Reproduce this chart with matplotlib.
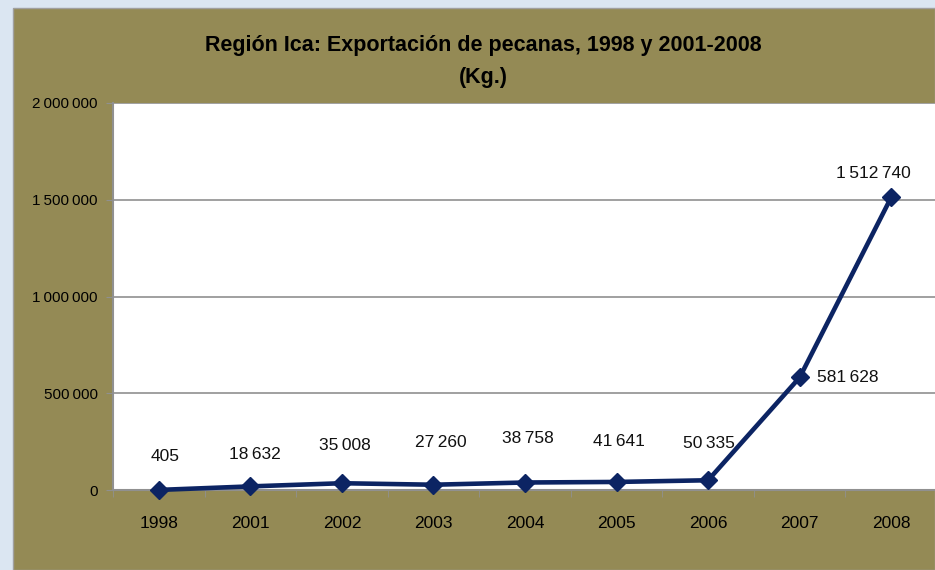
import matplotlib
matplotlib.use("Agg")
import matplotlib.pyplot as plt
from matplotlib.patches import Rectangle
import numpy as np

years = ["1998", "2001", "2002", "2003", "2004", "2005", "2006", "2007", "2008"]
values = [405, 18632, 35008, 27260, 38758, 41641, 50335, 581628, 1512740]
yticks = [0, 500000, 1000000, 1500000, 2000000]
title_lines = ["Región Ica: Exportación de pecanas, 1998 y 2001-2008", "(Kg.)"]

def fmt(v):
    return f"{v:,}".replace(",", "\u2009")

FONT = ["Liberation Sans Narrow", "Liberation Sans", "DejaVu Sans"]
plt.rcParams["font.family"] = FONT

W, H = 935, 570
fig = plt.figure(figsize=(W / 100, H / 100), dpi=100, facecolor="#dbe6f2")

# olive chart area
fig.patches.append(Rectangle((13 / W, 0), 1 - 13 / W, 1 - 8 / H, transform=fig.transFigure,
                             facecolor="#948a55", edgecolor="#a0a0a0", linewidth=1, zorder=-10))

L, R, T, B = 113, 937, 103, 490
ax = fig.add_axes([L / W, 1 - B / H, (R - L) / W, (B - T) / H], zorder=5)
ax.set_facecolor("white")

x = np.arange(len(years))
ax.plot(x, values, color="#0c2463", linewidth=3.3, marker="D", markersize=9.5,
        zorder=5, clip_on=False)

ax.set_xlim(-0.5, len(years) - 0.5)
ax.set_ylim(0, 2000000)
ax.set_yticks(yticks)
ax.set_yticklabels([fmt(v) for v in yticks], fontsize=11)
ax.set_xticks(x)
ax.set_xticklabels(years, fontsize=12.5)
ax.set_xticks(np.arange(-0.5, len(years), 1), minor=True)
ax.tick_params(axis="x", which="major", length=0, pad=19)
ax.tick_params(axis="x", which="minor", length=5, color="#909090", direction="out")
ax.tick_params(axis="y", length=5, color="#909090", direction="out", pad=6)
ax.yaxis.grid(True, color="#909090", linewidth=1.2)
ax.set_axisbelow(True)
for s in ["top", "right"]:
    ax.spines[s].set_visible(False)
for s in ["left", "bottom"]:
    ax.spines[s].set_color("#909090")
    ax.spines[s].set_linewidth(1.5)

# label offsets in pixels (dx, dy)
offs = [(6, 33), (5, 32), (3, 38), (7, 42), (3, 44), (2, 40), (1, 37), (17, 0), (-18, 24)]
for i, (v, (dx, dy)) in enumerate(zip(values, offs)):
    ha = "left" if i == 7 else "center"
    ax.annotate(fmt(v), (x[i], v), xytext=(dx * 0.72, dy * 0.72), textcoords="offset points",
                ha=ha, va="center", fontsize=12.5, color="#111111", annotation_clip=False)

for line, yp in zip(title_lines, [45, 77]):
    fig.text(483 / W, 1 - yp / H, line, ha="center", va="center", fontsize=15.5,
             fontweight="bold")

fig.savefig("out.png", dpi=100, facecolor=fig.get_facecolor())
